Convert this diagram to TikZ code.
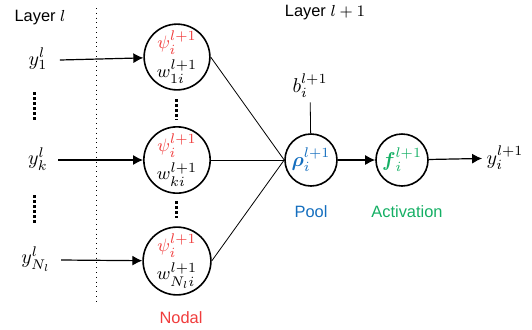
\documentclass[tikz,border=0pt]{standalone}
\usepackage{amsmath}
\usepackage[no-math]{fontspec}
\newfontfamily\labelfont{Liberation Sans}
\usetikzlibrary{arrows.meta}
\definecolor{nodalred}{RGB}{240,60,60}
\definecolor{poolblue}{RGB}{20,110,190}
\definecolor{actgreen}{RGB}{20,175,100}
\begin{document}
\begin{tikzpicture}[x=0.5pt,y=-0.5pt,
  txt/.style={font=\labelfont\fontsize{8.2}{10}\selectfont, inner sep=1pt},
  sym/.style={font=\fontsize{10}{12}\selectfont, inner sep=2pt},
  unit/.style={draw, circle, thick, minimum size=31pt, inner sep=0pt, align=center, font=\fontsize{9.5}{10.5}\selectfont},
  small/.style={draw, circle, thick, minimum size=26pt, inner sep=0pt, font=\fontsize{10}{12}\selectfont},
  feed/.style={semithick, -{Latex[length=5pt,width=5pt]}},
  vdots/.style={line width=1.5pt, dash pattern=on 1.5pt off 1pt}]
\useasboundingbox (0,0) rectangle (532,329);
% layers
\node[txt] (lyrA) at (40,18) {Layer $l$};
\node[txt] (lyrB) at (325,13) {Layer $l+1$};
\draw [dotted] (96,8) -- (96,302);
% inputs
\node[sym] (y1) at (38,59) {$y_1^l$};
\node[sym] (yk) at (38,159) {$y_k^l$};
\node[sym] (yN) at (36,259) {$y_{N_l}^l$};
\draw [vdots] (35,92) -- (35,120);
\draw [vdots] (35,195) -- (35,223);
% nodal units
\node[unit] (n1) at (177,57) {\textcolor{nodalred}{$\psi_i^{l+1}$}\\[1.5pt]$w_{1i}^{l+1}$};
\node[unit] (nk) at (177,160) {\textcolor{nodalred}{$\psi_i^{l+1}$}\\[1.5pt]$w_{ki}^{l+1}$};
\node[unit] (nN) at (177,261) {\textcolor{nodalred}{$\psi_i^{l+1}$}\\[1.5pt]$w_{N_li}^{l+1}$};
\draw [vdots] (177,99) -- (177,120);
\draw [vdots] (177,201) -- (177,218);
\draw [feed] (y1.east) ++(8,1) -- (n1);
\draw [feed] (yk.east) ++(6,1) -- (nk);
\draw [feed] (yN.east) ++(6,1) -- (nN);
% pool and activation
\node[small] (pool) at (311,160) {$\color{poolblue}\boldsymbol{\rho}_i^{l+1}$};
\node[small] (act) at (402,160) {$\color{actgreen}\boldsymbol{f}_i^{l+1}$};
\node[sym] (bias) at (310,86) {$b_i^{l+1}$};
\node[sym] (out) at (505,158) {$y_i^{l+1}$};
\draw (n1.east) -- (pool.west);
\draw (nk.east) -- (pool.west);
\draw (nN.east) -- (pool.west);
\draw (bias) -- (pool);
\draw [feed] (pool) -- (act);
\draw [feed] (act) -- (out);
% names
\node[txt, text=poolblue] (poolname) at (311,212) {Pool};
\node[txt, text=actgreen] (actname) at (407,212) {Activation};
\node[txt, text=nodalred] (nodalname) at (181,318) {Nodal};
\end{tikzpicture}
\end{document}
